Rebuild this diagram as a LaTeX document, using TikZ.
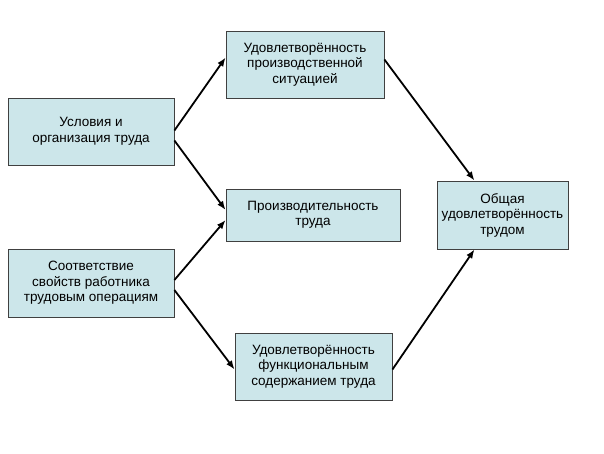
\documentclass[tikz,border=0pt]{standalone}
\usepackage{fontspec}
\usetikzlibrary{arrows.meta}
\setmainfont{Liberation Sans}
\definecolor{boxfill}{HTML}{CCE6EA}
\definecolor{boxline}{HTML}{404040}
\begin{document}
\begin{tikzpicture}[x=1pt,y=-1pt,
  box/.style={draw=boxline,fill=boxfill,line width=0.8pt,align=center,inner sep=0pt,font=\fontsize{13.5}{15.5}\selectfont},
  arr/.style={-{Latex[length=9pt,width=7pt]},line width=1.8pt,black}]
\useasboundingbox (0,0) rectangle (604,453);
\node[box,minimum width=166,minimum height=67] (A) at (91,131.5) {Условия и\\организация труда};
\node[box,minimum width=166,minimum height=68] (B) at (91,283) {Соответствие\\свойств работника\\трудовым операциям};
\node[box,minimum width=158,minimum height=67] (C) at (305,64.5) {Удовлетворённость\\производственной\\ситуацией};
\node[box,minimum width=174,minimum height=52] (D) at (313,215) {Производительность\\труда};
\node[box,minimum width=157,minimum height=67] (E) at (313.5,366.5) {Удовлетворённость\\функциональным\\содержанием труда};
\node[box,minimum width=131,minimum height=68] (F) at (502.5,215) {Общая\\удовлетворённость\\трудом};
\draw[arr] ([yshift=1]A.east) -- ([yshift=7]C.west);
\draw[arr] ([yshift=-9]A.east) -- ([yshift=5]D.west);
\draw[arr] ([yshift=3]B.east) -- ([yshift=-5]D.west);
\draw[arr] ([yshift=-7]B.east) -- ([yshift=-3]E.west);
\draw[arr] ([yshift=5]C.east) -- ([xshift=-28]F.north);
\draw[arr] ([yshift=-3]E.east) -- ([xshift=-28]F.south);
\end{tikzpicture}
\end{document}
